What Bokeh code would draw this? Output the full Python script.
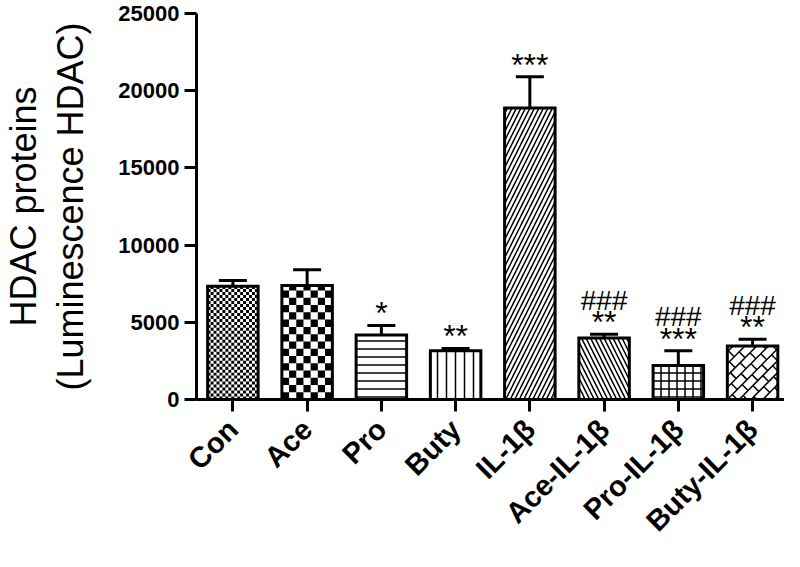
import math
from bokeh.plotting import figure
from bokeh.models import (ColumnDataSource, Whisker, TeeHead, FixedTicker, Range1d,
                          NumeralTickFormatter)
from bokeh.core.properties import value
from bokeh.embed import file_html
from bokeh.resources import INLINE

# ---------------- data ----------------
categories = ["Con", "Ace", "Pro", "Buty", "IL-1\u03b2", "Ace-IL-1\u03b2", "Pro-IL-1\u03b2", "Buty-IL-1\u03b2"]
means = [7330, 7390, 4170, 3160, 18880, 3980, 2210, 3470]
errors = [380, 1010, 630, 150, 2020, 250, 950, 440]
stars = ["", "", "*", "**", "***", "**", "***", "**"]
hashes = ["", "", "", "", "", "###", "###", "###"]
y_ticks = [0, 5000, 10000, 15000, 20000, 25000]

# ---------------- layout / styles ----------------
W, H = 784, 551
B_LEFT, B_RIGHT, B_TOP, B_BOTTOM = 187, 0, 13, 150
X0, X1 = -0.49, 7.43
Y0, Y1 = 0, 25000
BAR_W = 0.68
px_x = (W - B_LEFT - B_RIGHT) / (X1 - X0)
px_y = (H - B_TOP - B_BOTTOM) / (Y1 - Y0)

# per-bar fill style: builtin hatch name, or custom drawn ("checker", "brick")
fill_styles = ["checker", "checker", "horizontal_line", "vertical_line",
               "right_diagonal_line", "left_diagonal_line", "cross", "brick"]
style_scale = {"horizontal_line": 8, "vertical_line": 9,
               "right_diagonal_line": 9, "left_diagonal_line": 9, "cross": 8}
style_weight = {"horizontal_line": 1.5, "vertical_line": 1.5, "right_diagonal_line": 1.5,
                "left_diagonal_line": 1.5, "cross": 1.5}
checker_size = [3.0, 7.3]   # pixel size of the squares in the two checkered bars

xs = list(range(len(categories)))
uppers = [m + e for m, e in zip(means, errors)]
hatch_names = [s if s not in ("checker", "brick") else "blank" for s in fill_styles]
hatch_scales = [style_scale.get(s, 8) for s in fill_styles]
hatch_weights = [style_weight.get(s, 1) for s in fill_styles]

src = ColumnDataSource(dict(x=xs, mean=means, upper=uppers, stars=stars, hashes=hashes,
                            pattern=hatch_names, hscale=hatch_scales, hweight=hatch_weights))

# ---- checkerboard cells (computed from the bar extents) ----
cl, cr, cb, ct = [], [], [], []
ci = 0
for i, s in enumerate(fill_styles):
    if s != "checker":
        continue
    a = checker_size[ci]
    ci += 1
    left = xs[i] - BAR_W / 2
    wpx = BAR_W * px_x
    hpx = means[i] * px_y
    ncol = math.ceil(wpx / a)
    nrow = math.ceil(hpx / a)
    for r in range(nrow):
        for c in range(ncol):
            if (r + c) % 2 == 0:
                x0, x1 = c * a, min((c + 1) * a, wpx)
                y0, y1 = r * a, min((r + 1) * a, hpx)
                cl.append(left + x0 / px_x)
                cr.append(left + x1 / px_x)
                cb.append(y0 / px_y)
                ct.append(y1 / px_y)

# ---- diagonal brick pattern segments ----
sx0, sy0, sx1, sy1 = [], [], [], []
D, L = 12.0, 10.0
for i, s in enumerate(fill_styles):
    if s != "brick":
        continue
    left = xs[i] - BAR_W / 2
    w = BAR_W * px_x
    h = means[i] * px_y
    segs = []
    kmin, kmax = math.floor(-w / D) - 1, math.ceil(h / D) + 1
    for k in range(kmin, kmax + 1):
        v = k * D
        xa, xb = max(0.0, -v), min(w, h - v)
        if xb > xa:
            segs.append((xa, xa + v, xb, xb + v))
        off = (k % 2) * L
        for j in range(-3, int((w + h) / (2 * L)) + 4):
            u = j * 2 * L + off
            lo = max(v, u - 2 * w, -u)
            hi = min(v + D, u, 2 * h - u)
            if hi > lo:
                segs.append(((u - lo) / 2, (u + lo) / 2, (u - hi) / 2, (u + hi) / 2))
    for (a0, b0, a1, b1) in segs:
        sx0.append(left + a0 / px_x)
        sy0.append(b0 / px_y)
        sx1.append(left + a1 / px_x)
        sy1.append(b1 / px_y)

p = figure(width=W, height=H, output_backend="svg", toolbar_location=None,
           x_range=Range1d(X0, X1), y_range=Range1d(Y0, Y1),
           min_border_left=B_LEFT, min_border_right=B_RIGHT,
           min_border_top=B_TOP, min_border_bottom=B_BOTTOM)
p.outline_line_color = None
p.xgrid.visible = False
p.ygrid.visible = False
p.background_fill_color = "white"
p.border_fill_color = "white"

# fills + line hatches
p.vbar(x="x", top="mean", width=BAR_W, source=src, fill_color="white",
       line_color=None, hatch_pattern="pattern", hatch_scale="hscale",
       hatch_weight="hweight", hatch_color="black")
# checkerboards
p.quad(left=cl, right=cr, bottom=cb, top=ct, fill_color="black", line_color=None)
# bricks
p.segment(x0=sx0, y0=sy0, x1=sx1, y1=sy1, line_color="black", line_width=1.5)
# outlines
p.vbar(x="x", top="mean", width=BAR_W, source=src, fill_color=None,
       line_color="black", line_width=3, line_join="miter")

w = Whisker(source=src, base="x", lower="mean", upper="upper", dimension="height",
            line_width=3, line_color="black",
            upper_head=TeeHead(size=28, line_width=3, line_color="black"), lower_head=None)
p.add_layout(w)

p.text(x="x", y="upper", text="stars", source=src, text_align="center",
       text_baseline="alphabetic", y_offset=-12, text_font=value("Liberation Sans"),
       text_font_size="32px", text_color="black")
p.text(x="x", y="upper", text="hashes", source=src, text_align="center",
       text_baseline="alphabetic", y_offset=-34, text_font=value("Liberation Sans"),
       text_font_size="28px", text_color="black")

for ax in p.axis:
    ax.axis_line_width = 3
    ax.axis_line_color = "black"
    ax.major_tick_line_width = 3
    ax.major_tick_line_color = "black"
    ax.major_tick_in = 0
    ax.major_tick_out = 12
    ax.minor_tick_line_color = None
    ax.major_label_text_font = "Liberation Sans"
    ax.major_label_text_font_style = "bold"
    ax.major_label_text_color = "black"

p.yaxis.ticker = FixedTicker(ticks=y_ticks)
p.yaxis.formatter = NumeralTickFormatter(format="0")
p.yaxis.major_label_text_font_size = "22px"
p.yaxis.major_label_standoff = 5
p.yaxis.axis_label = "HDAC proteins\n(Luminescence HDAC)"
p.yaxis.axis_label_text_font = "Liberation Sans"
p.yaxis.axis_label_text_font_style = "normal"
p.yaxis.axis_label_text_font_size = "36px"
p.yaxis.axis_label_text_line_height = 1.15
p.yaxis.axis_label_text_color = "black"
p.yaxis.axis_label_standoff = 24

p.xaxis.ticker = FixedTicker(ticks=xs)
p.xaxis.major_label_overrides = {i: c for i, c in zip(xs, categories)}
p.xaxis.major_label_orientation = math.pi / 4
p.xaxis.major_label_text_font_size = "29px"
p.xaxis.major_label_standoff = 13

open("out.html", "w").write(file_html(p, INLINE))
